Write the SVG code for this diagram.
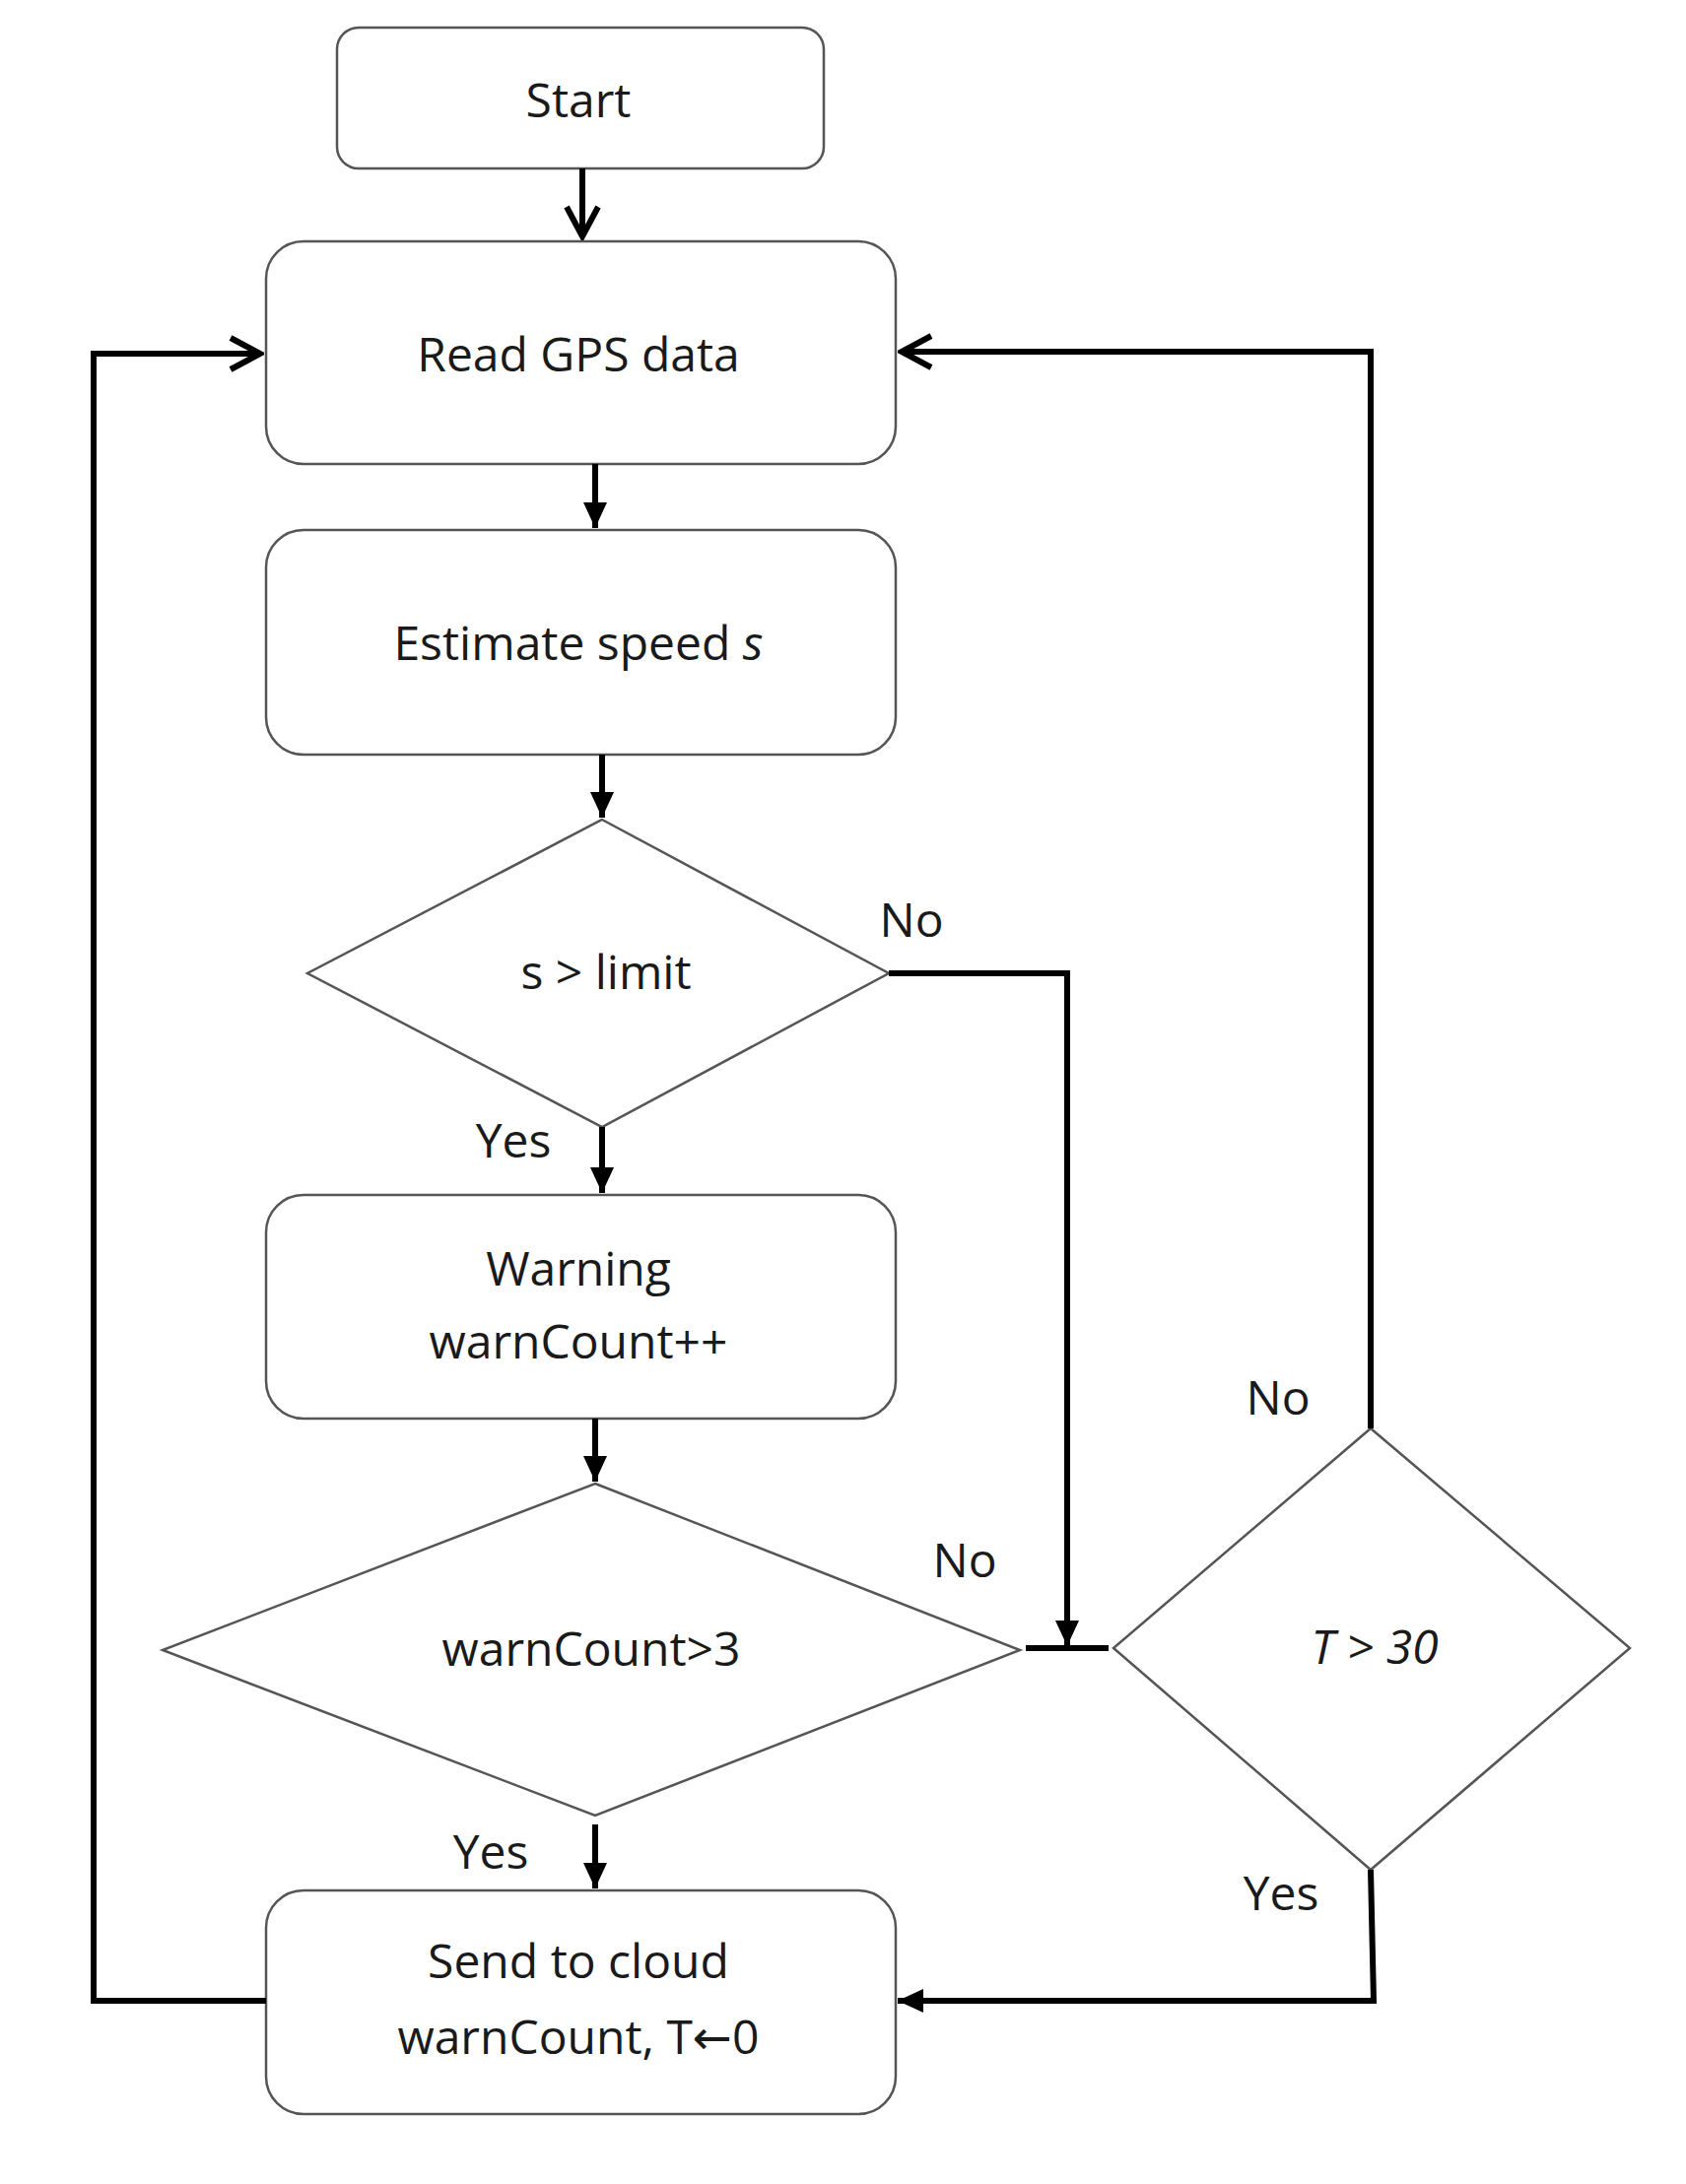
<svg xmlns="http://www.w3.org/2000/svg" width="1711" height="2217" viewBox="0 0 1711 2217">
<defs>
<marker id="ao" markerWidth="40" markerHeight="40" refX="36" refY="20" orient="auto" markerUnits="userSpaceOnUse"><path d="M6,4 L36,20 L6,36" fill="none" stroke="#000" stroke-width="6"/></marker>
<marker id="as" markerWidth="30" markerHeight="30" refX="26" refY="15" orient="auto" markerUnits="userSpaceOnUse"><path d="M0,3 L26,15 L0,27 Z" fill="#000"/></marker>
</defs>
<style>
.n{fill:#fff;stroke:#555;stroke-width:2.5}
.t{font-family:"Open Sans","Liberation Sans",sans-serif;font-size:48px;font-weight:500;fill:#1a1a1a;text-anchor:middle}
.c{fill:none;stroke:#000;stroke-width:6}
</style>
<rect width="1711" height="2217" fill="#fff"/>
<g id="start"><rect class="n" x="342" y="28" width="494" height="143" rx="22"/><text class="t" x="587" y="119">Start</text></g>
<g id="read"><rect class="n" x="270" y="245" width="639" height="226" rx="38"/><text class="t" x="587" y="377">Read GPS data</text></g>
<g id="estimate"><rect class="n" x="270" y="538" width="639" height="228" rx="38"/><text class="t" x="587" y="670">Estimate speed <tspan font-style="italic">s</tspan></text></g>
<g id="d1"><polygon class="n" points="611,832 902,988 611,1144 312,988"/><text class="t" x="615" y="1004">s &gt; limit</text></g>
<g id="warning"><rect class="n" x="270" y="1213" width="639" height="227" rx="38"/><text class="t" x="587" y="1305">Warning</text><text class="t" x="587" y="1379">warnCount++</text></g>
<g id="d2"><polygon class="n" points="604,1506 1035,1675 604,1843 165,1675"/><text class="t" x="600" y="1691">warnCount&gt;3</text></g>
<g id="d3"><polygon class="n" points="1391,1450 1654,1673 1391,1898 1130,1673"/><text class="t" x="1395" y="1689" font-style="italic">T &gt; 30</text></g>
<g id="send"><rect class="n" x="270" y="1919" width="639" height="227" rx="38"/><text class="t" x="587" y="2008">Send to cloud</text><text class="t" x="587" y="2085">warnCount, T<tspan font-family="DejaVu Sans, sans-serif">←</tspan>0</text></g>
<g id="connectors">
<path class="c" d="M591,171 V240" marker-end="url(#ao)"/>
<path class="c" d="M604,471 V536" marker-end="url(#as)"/>
<path class="c" d="M611,766 V830" marker-end="url(#as)"/>
<path class="c" d="M611,1144 V1211" marker-end="url(#as)"/>
<path class="c" d="M604,1440 V1504" marker-end="url(#as)"/>
<path class="c" d="M604,1852 V1917" marker-end="url(#as)"/>
<path class="c" d="M270,2031 H95 V359 H264" marker-end="url(#ao)"/>
<path class="c" d="M1391,1450 V357 H915" marker-end="url(#ao)"/>
<path class="c" d="M902,988 H1083 V1671" marker-end="url(#as)"/>
<path class="c" d="M1041,1673 H1125"/>
<path class="c" d="M1391,1898 L1394,2031 H911" marker-end="url(#as)"/>
</g>
<g id="labels">
<text class="t" x="925" y="951">No</text>
<text class="t" x="521" y="1175">Yes</text>
<text class="t" x="1297" y="1436">No</text>
<text class="t" x="979" y="1601">No</text>
<text class="t" x="498" y="1897">Yes</text>
<text class="t" x="1300" y="1939">Yes</text>
</g>
</svg>
